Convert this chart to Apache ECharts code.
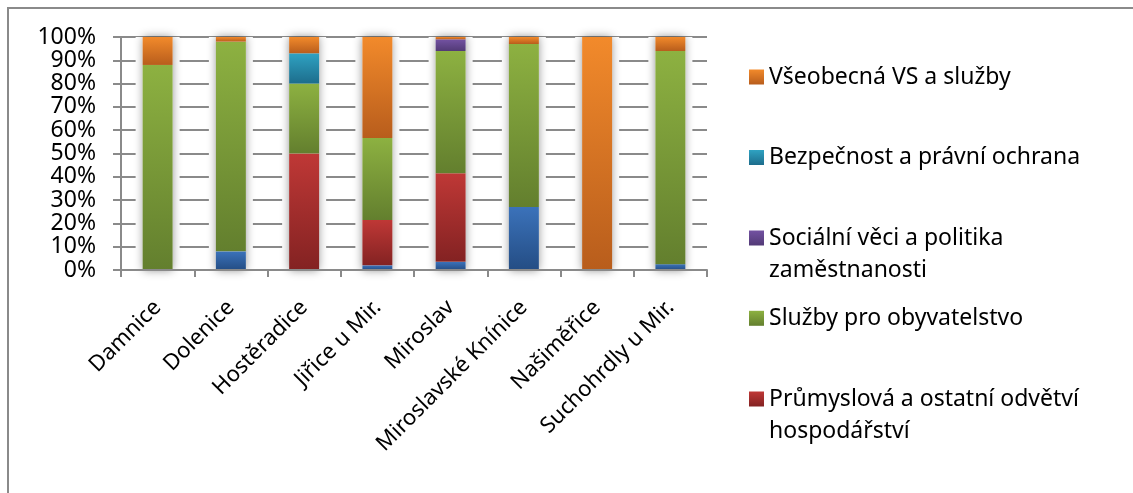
<!DOCTYPE html>
<html>
<head>
<meta charset="utf-8">
<script src="https://cdn.jsdelivr.net/npm/echarts@6/dist/echarts.min.js"></script>
<style>
  html, body { margin: 0; padding: 0; background: #fff; }
  #chart { width: 1133px; height: 493px; }
</style>
</head>
<body>
<div id="chart"></div>
<script>
// Municipalities (x axis)
const categories = ['Damnice', 'Dolenice', 'Hostěradice', 'Jiřice u Mir.', 'Miroslav',
  'Miroslavské Knínice', 'Našiměřice', 'Suchohrdly u Mir.'];

// Shares of spending by sector, % of each municipality's total (bottom to top)
const zemedelstvi = [0, 8, 0, 2, 3.5, 27, 0, 2.5];
const prumyslova = [0, 0, 50, 19.5, 38, 0, 0, 0];
const sluzbyObyvatelstvo = [88, 90, 30, 35.2, 52.5, 70, 0, 91.5];
const socialniVeci = [0, 0, 0, 0, 5, 0, 0, 0];
const bezpecnost = [0, 0, 13, 0, 0, 0, 0, 0];
const vseobecnaVS = [12, 2, 7, 43.3, 1, 3, 100, 6];

// Series names
const nZem = 'Zemědělství, lesní hospodářství a rybářství';
const nPrum = 'Průmyslová a ostatní odvětví hospodářství';
const nSluz = 'Služby pro obyvatelstvo';
const nSoc = 'Sociální věci a politika zaměstnanosti';
const nBez = 'Bezpečnost a právní ochrana';
const nVse = 'Všeobecná VS a služby';

// Legend entries as drawn (with line wraps)
const legendLabels = {
  [nVse]: 'Všeobecná VS a služby',
  [nBez]: 'Bezpečnost a právní ochrana',
  [nSoc]: 'Sociální věci a politika\nzaměstnanosti',
  [nSluz]: 'Služby pro obyvatelstvo',
  [nPrum]: 'Průmyslová a ostatní odvětví\nhospodářství'
};

const FONT = '"Noto Sans", "DejaVu Sans", sans-serif';
const GRAY = '#8a8a8a';

function grad(top, bottom) {
  return new echarts.graphic.LinearGradient(0, 0, 0, 1, [
    { offset: 0, color: top },
    { offset: 1, color: bottom }
  ]);
}

const palette = {
  [nZem]: grad('#3b72ba', '#244d84'),
  [nPrum]: grad('#bf3836', '#832222'),
  [nSluz]: grad('#8db141', '#637f2e'),
  [nSoc]: grad('#7352a2', '#523a76'),
  [nBez]: grad('#2fa2c2', '#1d6d8c'),
  [nVse]: grad('#f28a2b', '#b85d1c')
};

const stackSeries = [
  [nZem, zemedelstvi],
  [nPrum, prumyslova],
  [nSluz, sluzbyObyvatelstvo],
  [nSoc, socialniVeci],
  [nBez, bezpecnost],
  [nVse, vseobecnaVS]
];

// Column totals, used for the soft halo behind each column
const totals = categories.map((_, i) =>
  stackSeries.reduce((s, [, arr]) => s + arr[i], 0));

// One legend block per entry; wrapped entries get a leading empty line so the
// swatch lines up with the first line of text
function legendAt(name, top, wrapped) {
  return {
    data: [name],
    left: 749,
    top: top,
    orient: 'vertical',
    padding: 0,
    itemWidth: 15,
    itemHeight: 15,
    icon: 'rect',
    formatter: (n) => (wrapped ? '\n' : '') + legendLabels[n],
    textStyle: {
      fontFamily: FONT,
      fontSize: 23,
      lineHeight: 32,
      color: '#000'
    }
  };
}

const chart = echarts.init(document.getElementById('chart'), null, { renderer: 'canvas' });

chart.setOption({
  animation: false,
  backgroundColor: '#fff',
  graphic: [{
    type: 'rect',
    shape: { x: 8, y: 8, width: 1200, height: 600 },
    style: { fill: 'none', stroke: GRAY, lineWidth: 2 },
    silent: true
  }],
  grid: { left: 121, right: 426, top: 37, bottom: 223, containLabel: false },
  legend: [
    legendAt(nVse, 61, false),
    legendAt(nBez, 141.5, false),
    legendAt(nSoc, 190, true),
    legendAt(nSluz, 302.3, false),
    legendAt(nPrum, 351, true)
  ],
  xAxis: [
    {
      type: 'category',
      data: categories,
      z: 3,
      axisLine: { lineStyle: { color: GRAY, width: 2 } },
      axisTick: { show: true, length: 7, lineStyle: { color: GRAY, width: 2 } },
      axisLabel: {
        rotate: 45,
        margin: 34,
        interval: 0,
        fontFamily: FONT,
        fontSize: 22,
        color: '#000'
      }
    },
    { type: 'category', data: categories, show: false },
    { type: 'category', data: categories, show: false }
  ],
  yAxis: {
    type: 'value',
    min: 0,
    max: 100,
    interval: 10,
    axisLine: { show: true, lineStyle: { color: GRAY, width: 2 } },
    axisTick: { show: true, length: 8, lineStyle: { color: GRAY, width: 2 } },
    splitLine: { show: true, lineStyle: { color: GRAY, width: 2 } },
    axisLabel: {
      formatter: '{value}%',
      margin: 25,
      fontFamily: FONT,
      fontSize: 23,
      color: '#000'
    }
  },
  series: [
    {
      name: 'halo',
      type: 'bar',
      xAxisIndex: 1,
      barWidth: 44,
      silent: true,
      data: totals,
      itemStyle: { color: '#fff' }
    },
    {
      name: 'shade',
      type: 'bar',
      xAxisIndex: 2,
      barWidth: 30,
      silent: true,
      data: totals,
      itemStyle: { color: '#fff', shadowBlur: 9, shadowColor: 'rgba(0,0,0,0.45)' }
    },
    ...stackSeries.map(([name, values]) => ({
      name,
      type: 'bar',
      stack: 'share',
      xAxisIndex: 0,
      barWidth: 30,
      data: values,
      itemStyle: { color: palette[name] }
    }))
  ]
});
</script>
</body>
</html>
